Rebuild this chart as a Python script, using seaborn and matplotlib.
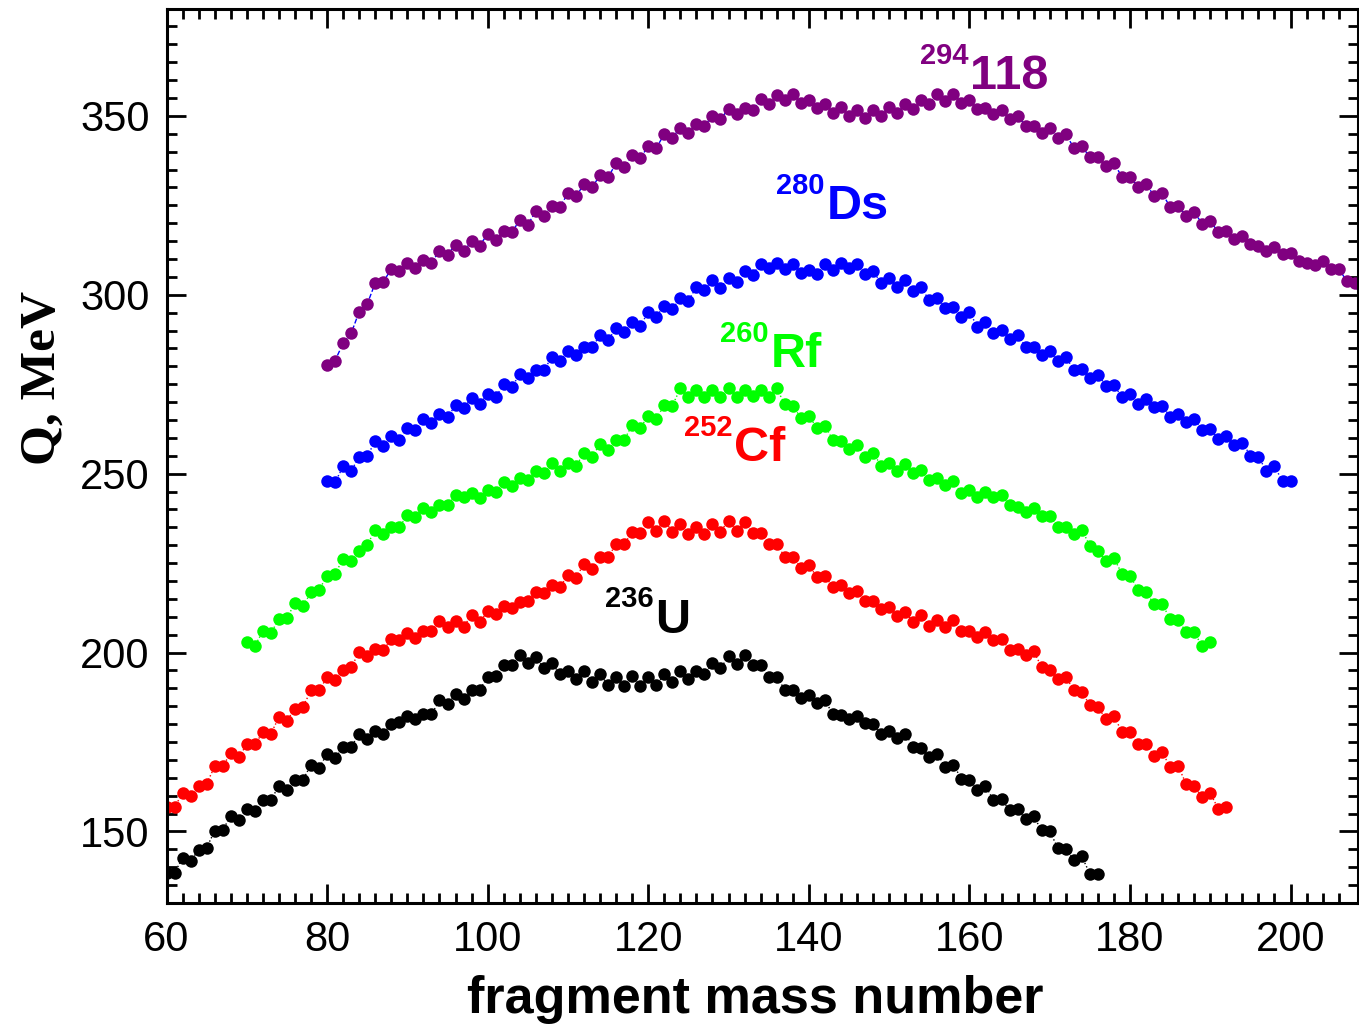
import numpy as np
import pandas as pd
import matplotlib
matplotlib.use("Agg")
import matplotlib.pyplot as plt
import seaborn as sns

# Q values (MeV) of binary fission vs fragment mass number, one array per nucleus
u236_start = 60
u236_q = [138.3, 138.4, 142.6, 141.7, 144.9, 145.5, 150.1, 150.5, 154.2, 153.3,
          156.3, 155.7, 158.9, 158.7, 162.8, 161.6, 164.4, 164.4, 168.7, 167.7,
          171.7, 170.5, 173.6, 173.6, 177.3, 175.9, 178.0, 177.3, 180.1, 180.5,
          182.4, 181.3, 182.9, 182.7, 186.6, 185.5, 188.3, 187.1, 189.6, 189.6,
          193.1, 193.4, 196.4, 196.4, 199.2, 197.0, 198.7, 195.6, 197.0, 194.0,
          194.8, 192.5, 194.8, 191.7, 193.9, 191.0, 193.1, 190.6, 193.4, 190.6,
          193.1, 191.0, 193.9, 191.7, 194.8, 192.5, 194.8, 194.0, 197.1, 195.6,
          198.9, 196.8, 199.4, 196.4, 196.4, 193.3, 193.3, 189.6, 189.6, 187.2,
          188.2, 185.8, 186.6, 182.8, 182.5, 181.4, 182.4, 180.3, 179.9, 177.3,
          178.0, 176.2, 177.3, 173.7, 173.4, 170.8, 171.7, 168.0, 168.7, 164.7,
          164.4, 161.7, 162.8, 158.7, 159.1, 155.9, 156.3, 153.4, 154.2, 150.3,
          150.1, 145.4, 145.2, 141.9, 143.0, 138.2, 138.2]

cf252_start = 60
cf252_q = [156.8, 156.8, 160.7, 159.8, 162.8, 163.3, 168.2, 168.2, 171.9, 170.8,
           174.3, 174.3, 177.7, 177.3, 181.9, 181.0, 184.3, 184.9, 189.4, 189.4,
           193.1, 192.4, 195.2, 195.9, 200.1, 198.9, 201.0, 200.6, 203.8, 203.4,
           205.4, 204.1, 206.1, 206.1, 208.8, 207.1, 208.8, 207.2, 210.5, 208.5,
           211.5, 210.8, 212.9, 212.4, 214.1, 214.5, 217.0, 216.6, 219.0, 218.2,
           221.8, 220.9, 224.8, 223.4, 226.8, 226.6, 230.4, 230.2, 233.8, 233.3,
           236.4, 234.1, 236.9, 233.8, 235.9, 233.1, 235.0, 233.1, 235.9, 233.8,
           236.9, 234.1, 236.4, 233.3, 233.3, 230.2, 230.2, 226.8, 226.8, 223.7,
           224.6, 221.0, 221.5, 218.2, 218.9, 216.6, 217.1, 214.5, 214.3, 212.2,
           212.8, 210.3, 211.4, 208.5, 210.5, 207.5, 209.1, 207.1, 209.0, 206.1,
           206.1, 204.3, 205.7, 203.4, 203.8, 200.8, 201.0, 199.2, 200.4, 195.9,
           195.2, 192.7, 193.3, 189.4, 189.1, 185.2, 184.7, 181.5, 182.4, 177.7,
           177.7, 174.5, 174.5, 171.2, 172.2, 168.0, 168.2, 163.3, 162.6, 159.6,
           160.7, 156.3, 156.9]

rf260_start = 70
rf260_q = [202.9, 201.8, 206.0, 205.4, 209.4, 209.7, 213.8, 213.1, 216.8, 217.5,
           221.5, 222.0, 226.2, 225.5, 228.5, 230.1, 234.3, 233.2, 235.2, 235.0,
           238.5, 238.0, 240.4, 239.2, 241.1, 241.1, 244.1, 243.4, 244.6, 243.2,
           245.5, 244.8, 247.6, 246.5, 248.8, 248.2, 250.8, 250.1, 252.9, 250.8,
           252.9, 252.2, 255.7, 254.7, 258.3, 256.6, 259.4, 259.4, 263.6, 262.7,
           266.2, 265.3, 269.2, 269.0, 273.8, 271.3, 273.5, 271.3, 273.5, 271.3,
           273.8, 271.5, 273.5, 271.8, 273.5, 271.5, 273.8, 269.4, 269.0, 265.6,
           266.2, 262.8, 263.4, 259.4, 259.0, 256.9, 258.1, 254.7, 255.9, 252.2,
           252.9, 250.8, 252.7, 250.2, 250.9, 248.3, 248.9, 246.8, 247.9, 244.6,
           245.4, 243.4, 244.8, 243.4, 244.1, 241.1, 240.6, 239.2, 240.4, 238.3,
           238.3, 235.0, 235.2, 233.2, 234.3, 229.9, 228.5, 225.5, 226.4, 222.0,
           221.5, 217.5, 216.8, 213.6, 213.6, 209.4, 209.2, 205.7, 205.7, 201.7,
           202.9]

ds280_start = 80
ds280_q = [247.9, 247.6, 252.0, 250.8, 254.7, 255.0, 259.0, 257.8, 260.6, 259.5,
           262.8, 262.2, 265.3, 264.1, 266.7, 265.7, 269.2, 268.3, 271.1, 269.5,
           272.3, 271.3, 275.1, 274.1, 277.9, 276.7, 279.0, 279.0, 282.5, 281.4,
           284.4, 283.2, 285.5, 285.3, 288.7, 287.4, 290.6, 289.5, 292.5, 291.3,
           295.1, 293.9, 296.9, 296.0, 299.1, 298.3, 302.2, 301.3, 304.1, 302.0,
           304.8, 303.7, 306.5, 305.6, 308.7, 307.4, 309.0, 307.1, 308.7, 306.2,
           307.0, 305.9, 308.6, 306.9, 309.0, 307.4, 308.7, 305.8, 306.5, 303.4,
           304.7, 302.1, 304.0, 301.1, 302.1, 298.4, 299.1, 296.2, 296.6, 293.9,
           295.1, 291.1, 292.3, 289.2, 290.1, 287.6, 288.8, 285.5, 285.5, 283.2,
           284.4, 281.4, 282.5, 279.1, 279.2, 276.7, 277.7, 274.6, 274.9, 271.3,
           272.3, 269.5, 270.9, 268.5, 269.0, 265.9, 266.7, 264.5, 265.3, 262.2,
           262.5, 259.7, 260.6, 258.1, 258.7, 255.0, 254.6, 250.8, 252.0, 247.9,
           247.9]

e118_start = 80
e118_q = [280.4, 281.6, 286.5, 289.2, 295.3, 297.4, 303.3, 303.6, 307.2, 306.7,
          309.0, 307.6, 309.7, 308.9, 312.3, 311.2, 314.0, 312.1, 314.9, 313.7,
          317.0, 315.3, 317.9, 317.4, 320.9, 319.6, 323.3, 322.1, 324.7, 324.6,
          328.3, 327.5, 330.9, 330.0, 333.4, 332.8, 336.8, 335.6, 339.0, 338.1,
          341.6, 341.0, 344.9, 343.9, 346.7, 345.2, 347.7, 347.2, 350.0, 349.1,
          351.9, 350.5, 352.2, 351.6, 354.7, 353.3, 355.8, 354.5, 356.2, 353.5,
          354.4, 352.2, 353.3, 350.9, 352.5, 350.0, 351.7, 349.4, 351.6, 350.0,
          352.6, 350.9, 353.3, 351.9, 354.4, 353.4, 356.1, 354.2, 356.1, 353.7,
          354.4, 351.9, 352.2, 350.5, 351.6, 349.1, 350.0, 347.2, 347.2, 345.3,
          346.7, 343.9, 344.9, 341.1, 341.6, 338.4, 338.5, 336.0, 336.7, 333.0,
          333.0, 330.2, 330.9, 327.7, 328.3, 324.6, 324.9, 322.1, 323.0, 319.9,
          320.7, 317.4, 317.9, 315.6, 316.5, 314.2, 313.7, 312.3, 313.4, 311.4,
          311.8, 309.5, 309.0, 308.4, 309.5, 307.2, 307.2, 303.9, 303.4, 297.6]

# nucleus label, mass number superscript, marker colour, connector colour, connector style
series = [
    ("U", "236", u236_start, u236_q, "#000000", "#000000", ":"),
    ("Cf", "252", cf252_start, cf252_q, "#FF0000", "#FF0000", ":"),
    ("Rf", "260", rf260_start, rf260_q, "#00FF00", "#00FF00", ":"),
    ("Ds", "280", ds280_start, ds280_q, "#0000FF", "#0000FF", ":"),
    ("118", "294", e118_start, e118_q, "#800080", "#0000FF", "--"),
]

# label anchor (mass number, Q) for each nucleus name
label_pos = {
    "U": (120.9, 205.6),
    "Cf": (130.7, 253.4),
    "Rf": (135.2, 279.9),
    "Ds": (142.2, 321.2),
    "118": (160.1, 357.5),
}

sns.set_style("ticks")
plt.rcParams["font.family"] = ["Liberation Sans", "DejaVu Sans"]
plt.rcParams["text.color"] = "black"
plt.rcParams["axes.labelcolor"] = "black"
plt.rcParams["xtick.color"] = "black"
plt.rcParams["ytick.color"] = "black"

W, H = 1359, 1027
fig = plt.figure(figsize=(W / 100, H / 100), dpi=100)
ax = fig.add_axes([166.5 / W, (H - 903) / H, (1358 - 166.5) / W, (903 - 8.5) / H])

for name, mass_sup, start, q, mcol, lcol, ls in series:
    df = pd.DataFrame({"A": np.arange(start, start + len(q)), "Q": q})
    sns.lineplot(data=df, x="A", y="Q", ax=ax, color=lcol, linestyle=ls,
                 linewidth=1.0, marker="o", markersize=9.0,
                 markerfacecolor=mcol, markeredgecolor=mcol, markeredgewidth=0,
                 estimator=None, sort=False)
    lx, ly = label_pos[name]
    ax.text(lx, ly, name, color=mcol, fontsize=35, fontweight="bold",
            ha="left", va="baseline")
    ax.text(lx - 0.2, ly + 7.0, mass_sup, color=mcol, fontsize=21,
            fontweight="bold", ha="right", va="baseline")

ax.set_xlim(60, 208.4)
ax.set_ylim(130, 380)
ax.set_xticks([60, 80, 100, 120, 140, 160, 180, 200])
ax.set_yticks([150, 200, 250, 300, 350])
ax.set_xticks(np.arange(62, 208, 2), minor=True)
ax.set_yticks(np.arange(135, 380, 5), minor=True)

for side in ["left", "right", "top", "bottom"]:
    ax.spines[side].set_visible(True)
    ax.spines[side].set_linewidth(2.2)
    ax.spines[side].set_color("black")

ax.tick_params(which="both", direction="in", top=True, right=True,
               width=2.0, color="black", labelcolor="black")
ax.tick_params(which="major", length=14, labelsize=30, pad=12)
ax.tick_params(which="minor", length=7)

ax.set_xlabel("fragment mass number", fontsize=37.5, fontweight="bold",
              family="Liberation Sans", color="black")
ax.xaxis.set_label_coords(0.494, -0.081)
ax.set_ylabel("Q, MeV", fontsize=37, fontweight="bold",
              family="Liberation Serif", color="black")
ax.yaxis.set_label_coords(-0.085, 0.587)

fig.savefig("out.png", dpi=100)
